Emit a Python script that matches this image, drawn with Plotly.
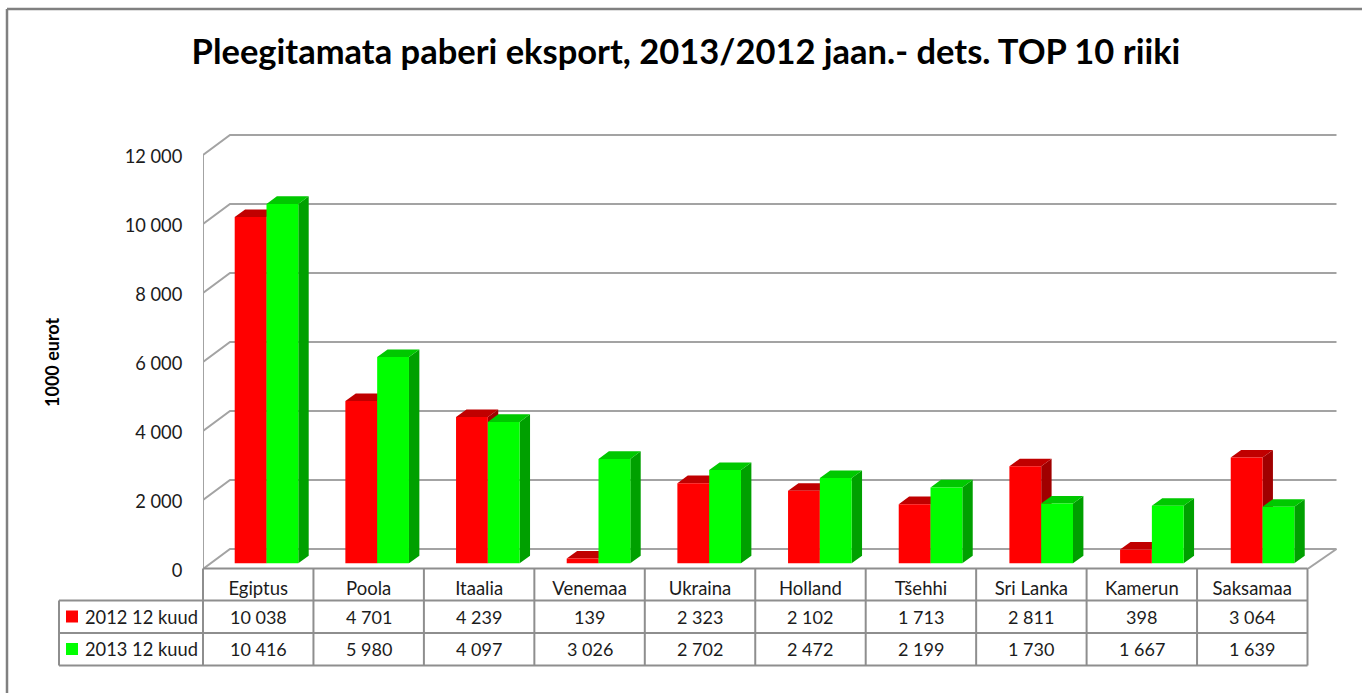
import plotly.graph_objects as go

categories = ["Egiptus", "Poola", "Itaalia", "Venemaa", "Ukraina", "Holland", "Tšehhi", "Sri Lanka", "Kamerun", "Saksamaa"]
values_2012 = [10038, 4701, 4239, 139, 2323, 2102, 1713, 2811, 398, 3064]
values_2013 = [10416, 5980, 4097, 3026, 2702, 2472, 2199, 1730, 1667, 1639]
series_names = ["2012 12 kuud", "2013 12 kuud"]
y_ticks = [0, 2000, 4000, 6000, 8000, 10000, 12000]
title_text = "Pleegitamata paberi eksport, 2013/2012 jaan.- dets. TOP 10 riiki"
y_title = "1000 eurot"

FONT = "Lato"
W, H = 1362, 693
L, R, T, B = 203, 1340, 130, 569          # plot rectangle in pixels
CAT = 110.45                               # pixels per category
VPX = 2000 / 69                            # value units per pixel
N = len(categories)


def fmt(v):
    return f"{v:,}".replace(",", " ")


def px(x):
    return (x - L) / (R - L)


def py(y):
    return (B - y) / (B - T)


GRID = "#A3A3A3"
TABLE = "#8E8E8E"
BORDER = "#808080"
TEXT = "#1c1c1c"

# 3-D depth of the walls and of the bars, in data units
wall_dx, wall_dy = 27 / CAT, 20 * VPX
bar_dx, bar_dy = 10.4 / CAT, 7.6 * VPX
bar_base = 5.7 * VPX
bar_w = 31.8 / CAT
bar_start, bar_pitch = 31.7 / CAT, 1.002
x_end = N + 29 / CAT

fig = go.Figure()

# walls and floor
gx, gy = [], []
for v in y_ticks:
    gx += [0, wall_dx, x_end, None]
    gy += [v, v + wall_dy, v + wall_dy, None]
gx += [0, 0, None, N, x_end]
gy += [0, y_ticks[-1], None, 0, wall_dy]
fig.add_trace(go.Scatter(x=gx, y=gy, mode="lines", line=dict(color=GRID, width=2),
                         hoverinfo="skip", showlegend=False, zorder=0))


def add_series(values, offset, front, top, side, z, name):
    sx, sy, tx, ty, centers = [], [], [], [], []
    for i, v in enumerate(values):
        x0 = bar_start + i * bar_pitch + offset * bar_w
        x1 = x0 + bar_w
        h = bar_base + v
        centers.append((x0 + x1) / 2)
        sx += [x1, x1 + bar_dx, x1 + bar_dx, x1, x1, None]
        sy += [bar_base, bar_base + bar_dy, h + bar_dy, h, bar_base, None]
        tx += [x0, x0 + bar_dx, x1 + bar_dx, x1, x0, None]
        ty += [h, h + bar_dy, h + bar_dy, h, h, None]
    for xs, ys, col in ((sx, sy, side), (tx, ty, top)):
        fig.add_trace(go.Scatter(x=xs, y=ys, mode="lines", fill="toself", fillcolor=col,
                                 line=dict(width=0, color=col), hoverinfo="skip",
                                 showlegend=False, zorder=z))
    fig.add_trace(go.Bar(x=centers, y=values, base=bar_base, width=bar_w, name=name,
                         marker=dict(color=front, line=dict(width=0)),
                         showlegend=False, zorder=z + 1))


add_series(values_2012, 0, "#FF0000", "#C00000", "#A00000", 1, series_names[0])
add_series(values_2013, 1, "#00FF00", "#00C800", "#00A000", 3, series_names[1])

# data table
shapes = []
rows_y = [568.5, 600.5, 633, 665.5]


def line(x0, y0, x1, y1, color=TABLE, width=2):
    shapes.append(dict(type="line", xref="paper", yref="paper", x0=px(x0), y0=py(y0),
                       x1=px(x1), y1=py(y1), line=dict(color=color, width=width)))


line(L, rows_y[0], L + N * CAT, rows_y[0])
for y in rows_y[1:]:
    line(59, y, L + N * CAT, y)
line(59, rows_y[1], 59, rows_y[3])
for i in range(N + 1):
    line(L + i * CAT, rows_y[0], L + i * CAT, rows_y[3])

# chart frame
line(7, 9, W, 9, BORDER, 2.5)
line(7, 9, 7, H, BORDER, 2.5)

annotations = []
row_rows = [(values_2012, 616.5, "#FF0000", series_names[0]), (values_2013, 649, "#00FF00", series_names[1])]
for vals, yc, col, nm in row_rows:
    shapes.append(dict(type="rect", xref="paper", yref="paper", x0=px(66), x1=px(78),
                       y0=py(yc - 6), y1=py(yc + 6), fillcolor=col, line=dict(width=0)))
    annotations.append(dict(x=px(83), y=py(yc), xref="paper", yref="paper", text=nm, showarrow=False,
                            xanchor="left", yanchor="middle", font=dict(family=FONT, size=18.3, color=TEXT)))
    for i, v in enumerate(vals):
        annotations.append(dict(x=i + 0.5, y=py(yc), xref="x", yref="paper", text=fmt(v), showarrow=False,
                                xanchor="center", yanchor="middle", font=dict(family=FONT, size=18, color=TEXT)))

annotations.append(dict(x=px(52), y=py(362), xref="paper", yref="paper", text=f"<b>{y_title}</b>", textangle=-90,
                        showarrow=False, xanchor="center", yanchor="middle",
                        font=dict(family=FONT, size=18, color="#000000")))

fig.update_layout(
    width=W, height=H,
    margin=dict(l=L, r=W - R, t=T, b=H - B, pad=0),
    paper_bgcolor="white", plot_bgcolor="white",
    barmode="overlay", showlegend=False,
    title=dict(text=f"<b>{title_text}</b>", x=686 / W, xanchor="center", y=1 - 52 / H, yanchor="middle",
               font=dict(family=FONT, size=34.5, color="#000000")),
    xaxis=dict(range=[0, (R - L) / CAT], tickmode="array", tickvals=[i + 0.5 for i in range(N)],
               ticktext=categories, showgrid=False, zeroline=False, showline=False,
               ticks="outside", ticklen=3, tickcolor="rgba(0,0,0,0)",
               tickfont=dict(family=FONT, size=18.5, color=TEXT)),
    yaxis=dict(range=[0, (B - T) * VPX], tickmode="array", tickvals=y_ticks,
               ticktext=[fmt(v) for v in y_ticks], showgrid=False, zeroline=False, showline=False,
               ticks="outside", ticklen=16, tickcolor="rgba(0,0,0,0)", ticklabelshift=2,
               tickfont=dict(family=FONT, size=18.3, color=TEXT)),
    shapes=shapes, annotations=annotations,
)

fig.write_html("out.html", post_script="document.body.style.margin='0';",
               config={"displayModeBar": False})
